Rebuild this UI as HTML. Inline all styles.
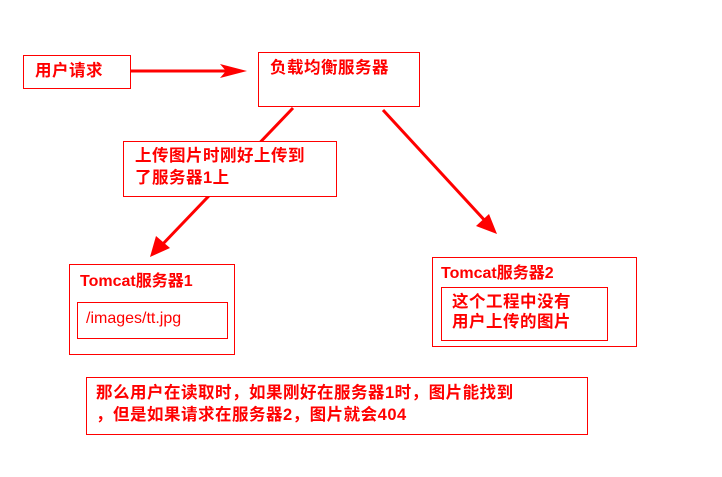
<!DOCTYPE html>
<html><head><meta charset="utf-8"><style>
body{margin:0;width:722px;height:477px;background:#fff;position:relative;overflow:hidden;font-family:"Liberation Sans","Noto Sans CJK SC",sans-serif;color:#f00;font-weight:bold;font-size:15px}
.b{position:absolute;border:1.5px solid #f00;box-sizing:border-box}
.t{position:absolute;white-space:nowrap;line-height:20px}
.c{letter-spacing:0.5px;font-size:16.5px}
</style></head><body>
<svg width="722" height="477" style="position:absolute;left:0;top:0">
<line x1="131" y1="71" x2="228" y2="71" stroke="#f00" stroke-width="3"/>
<polygon points="220,64 247,71 220,78 226,71" fill="#f00"/>
<line x1="293" y1="108" x2="160" y2="247" stroke="#f00" stroke-width="3"/>
<polygon points="150,257 156,236 170,248" fill="#f00"/>
<line x1="383" y1="110" x2="488" y2="224" stroke="#f00" stroke-width="3"/>
<polygon points="497,234 476,226 489,214" fill="#f00"/>
</svg>
<div class="b" style="left:23px;top:55px;width:108px;height:34px"></div>
<div class="t c" style="left:35px;top:61px">用户请求</div>
<div class="b" style="left:258px;top:52px;width:162px;height:55px;background:#fff"></div>
<div class="t c" style="left:270px;top:58px">负载均衡服务器</div>
<div class="b" style="left:123px;top:141px;width:214px;height:56px;background:#fff"></div>
<div class="t c" style="left:135px;top:145px;line-height:22px">上传图片时刚好上传到<br>了服务器1上</div>
<div class="b" style="left:69px;top:264px;width:166px;height:91px"></div>
<div class="t" style="left:80px;top:272px;font-size:16px">Tomcat服务器1</div>
<div class="b" style="left:77px;top:302px;width:151px;height:37px"></div>
<div class="t" style="left:86px;top:309px;font-weight:normal;font-size:16px">/images/tt.jpg</div>
<div class="b" style="left:432px;top:257px;width:205px;height:90px"></div>
<div class="t" style="left:441px;top:264px;font-size:16px">Tomcat服务器2</div>
<div class="b" style="left:441px;top:287px;width:167px;height:54px"></div>
<div class="t c" style="left:452px;top:292px;line-height:20px">这个工程中没有<br>用户上传的图片</div>
<div class="b" style="left:86px;top:377px;width:502px;height:58px"></div>
<div class="t c" style="left:96px;top:382px;line-height:22px">那么用户在读取时，如果刚好在服务器1时，图片能找到<br>，但是如果请求在服务器2，图片就会404</div>
</body></html>
